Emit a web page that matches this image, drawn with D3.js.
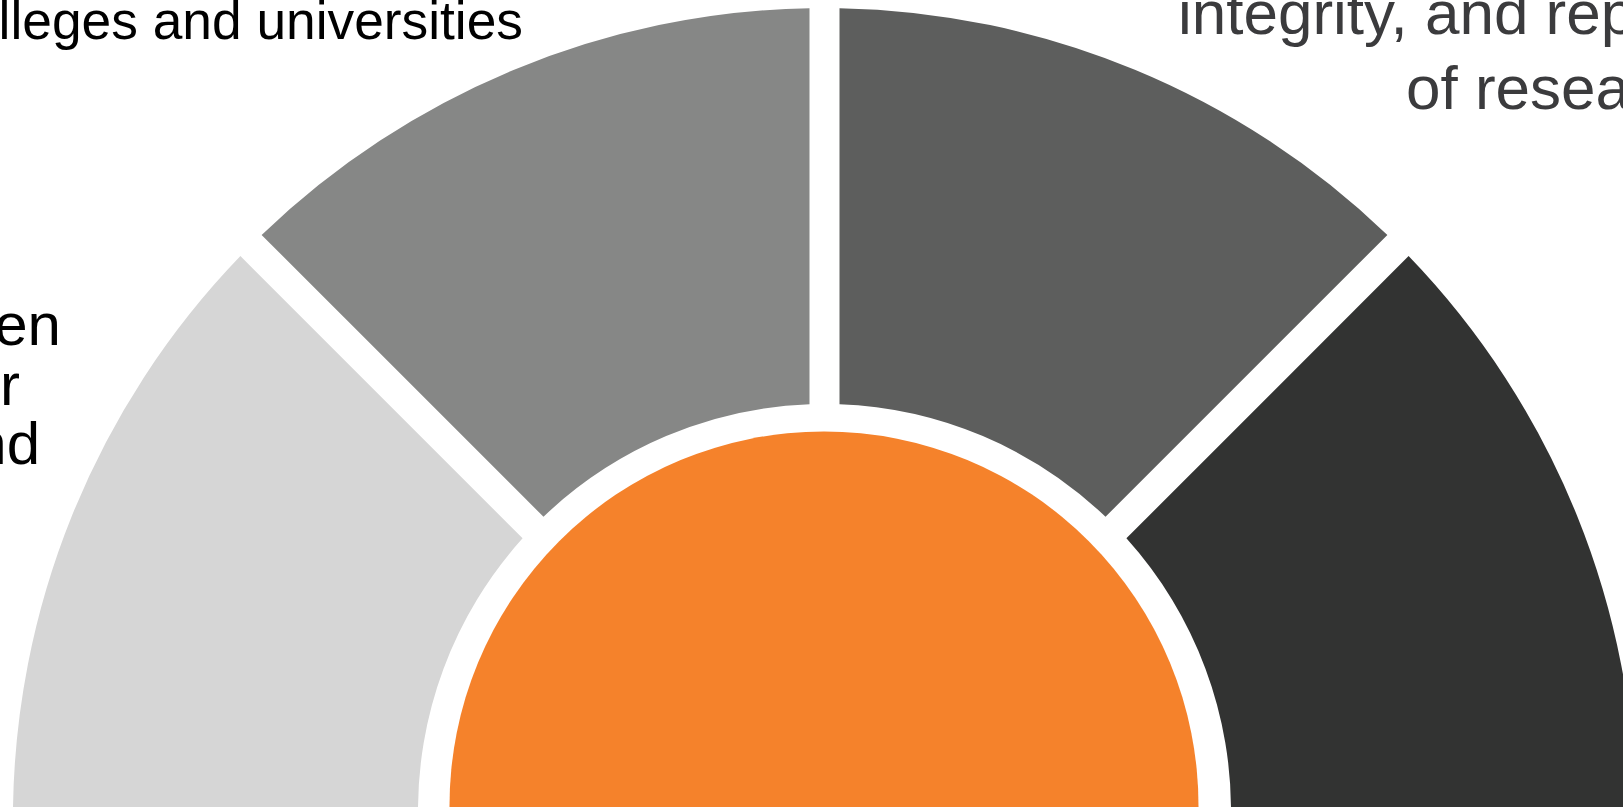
<!DOCTYPE html>
<html>
<head>
<meta charset="utf-8">
<script src="https://cdn.jsdelivr.net/npm/d3@7"></script>
<style>
  html, body { margin: 0; padding: 0; background: #ffffff; overflow: hidden; }
  svg { display: block; }
  text { font-family: "Liberation Sans", Arial, Helvetica, sans-serif; }
</style>
</head>
<body>
<svg id="chart" width="1623" height="807"></svg>
<script>
// ---- data ----
const segments = ["Segment 1", "Segment 2", "Segment 3", "Segment 4"];
const segmentValues = [1, 1, 1, 1];
const segmentColors = ["#d6d6d6", "#868786", "#5d5e5d", "#323332"];
const centerColor = "#f5822b";

const topLeftLines = ["Colleges and universities"];
const leftLines = ["between", "for", "and"];
const rightLines = ["integrity, and reproducibility", "of research"];

// ---- layout ----
const svg = d3.select("#chart");
const W = 1623, H = 807;
svg.append("rect").attr("width", W).attr("height", H).attr("fill", "#fff");

const cx = 824.5;
const outerC = {x: cx, y: 819.6}, outerR = 811.6;
const innerC = {x: cx, y: 810.5}, innerR = 406.5;
const gapC = {x: cx, y: 819};
const halfGap = 15;

const pie = d3.pie().sort(null).startAngle(-Math.PI / 2).endAngle(Math.PI / 2);
const arcs = pie(segmentValues);

function hit(theta, offset, C, R) {
  const u = {x: Math.sin(theta), y: -Math.cos(theta)};
  const n = {x: Math.cos(theta), y: Math.sin(theta)};
  const q = {x: gapC.x + offset * n.x, y: gapC.y + offset * n.y};
  const dx = q.x - C.x, dy = q.y - C.y;
  const b = dx * u.x + dy * u.y;
  const c = dx * dx + dy * dy - R * R;
  const t = -b + Math.sqrt(b * b - c);
  return {x: q.x + t * u.x, y: q.y + t * u.y};
}
const ang = (p, C) => Math.atan2(p.y - C.y, p.x - C.x);

function segPath(a) {
  const eps = 1e-6;
  const o0 = a.startAngle > -Math.PI / 2 + eps ? halfGap : 0;
  const o1 = a.endAngle < Math.PI / 2 - eps ? -halfGap : 0;
  const so = hit(a.startAngle, o0, outerC, outerR);
  const eo = hit(a.endAngle, o1, outerC, outerR);
  const si = hit(a.startAngle, o0, innerC, innerR);
  const ei = hit(a.endAngle, o1, innerC, innerR);
  const p = d3.path();
  p.moveTo(so.x, so.y);
  p.arc(outerC.x, outerC.y, outerR, ang(so, outerC), ang(eo, outerC), false);
  p.lineTo(ei.x, ei.y);
  p.arc(innerC.x, innerC.y, innerR, ang(ei, innerC), ang(si, innerC), true);
  p.closePath();
  return p.toString();
}

svg.append("g").selectAll("path")
  .data(arcs)
  .join("path")
  .attr("d", segPath)
  .attr("fill", (d, i) => segmentColors[i])
  .attr("data-name", (d, i) => segments[i]);

svg.append("circle")
  .attr("cx", 824).attr("cy", 806).attr("r", 374.5)
  .attr("fill", centerColor);

// ---- texts ----
svg.append("g").selectAll("text")
  .data(topLeftLines)
  .join("text")
  .attr("x", 523).attr("y", (d, i) => 39 + i * 64)
  .attr("text-anchor", "end")
  .attr("font-size", 53.3)
  .attr("fill", "#000")
  .text(d => d);

const leftEnds = [61, 20, 40];
svg.append("g").selectAll("text")
  .data(leftLines)
  .join("text")
  .attr("x", (d, i) => leftEnds[i])
  .attr("y", (d, i) => 345 + i * 59.5)
  .attr("text-anchor", "end")
  .attr("font-size", 60)
  .attr("fill", "#000")
  .text(d => d);

const rightStarts = [1178, 1406];
svg.append("g").selectAll("text")
  .data(rightLines)
  .join("text")
  .attr("x", (d, i) => rightStarts[i])
  .attr("y", (d, i) => 34 + i * 74.5)
  .attr("text-anchor", "start")
  .attr("font-size", 62)
  .attr("fill", "#3b3b3d")
  .text(d => d);
</script>
</body>
</html>
